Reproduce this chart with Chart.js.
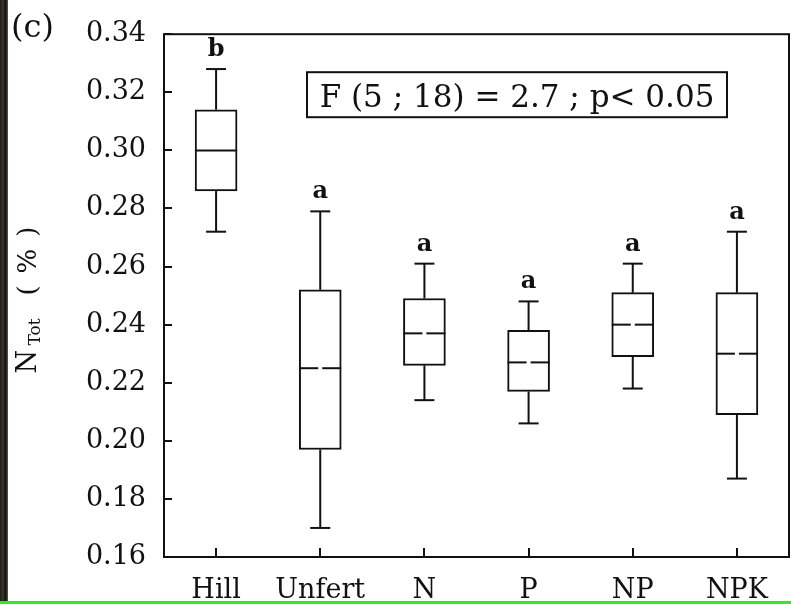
<!DOCTYPE html>
<html>
<head>
<meta charset="utf-8">
<script src="https://cdn.jsdelivr.net/npm/chart.js@4.4.1/dist/chart.umd.min.js"></script>
<style>
  html, body { margin: 0; padding: 0; background: #fff; }
  #wrap { position: relative; width: 791px; height: 604px; overflow: hidden; background: #fff; }
  #c { position: absolute; left: 0; top: 0; }
  #edge { position: absolute; left: 0; top: 0; width: 8px; height: 601px;
          background: linear-gradient(90deg, #1b1813 0%, #3b362b 35%, #121110 70%, #5a5953 100%); }
  #base { position: absolute; left: 0; bottom: 0; width: 791px; height: 3px; background: #1ff51c; }
</style>
</head>
<body>
<div id="wrap">
  <canvas id="c" width="791" height="604"></canvas>
  <div id="edge"></div>
  <div id="base"></div>
</div>
<script>
// Total nitrogen (%) per treatment: whisker ends, quartiles and medians
const groups       = ['Hill', 'Unfert', 'N', 'P', 'NP', 'NPK'];
const whiskerLow   = [0.272, 0.170, 0.214, 0.206, 0.218, 0.187];
const quartile1    = [0.286, 0.197, 0.226, 0.217, 0.229, 0.209];
const medians      = [0.300, 0.225, 0.237, 0.227, 0.240, 0.230];
const quartile3    = [0.314, 0.252, 0.249, 0.238, 0.251, 0.251];
const whiskerHigh  = [0.328, 0.279, 0.261, 0.248, 0.261, 0.272];
const groupLetters = ['b', 'a', 'a', 'a', 'a', 'a'];
const yTicks       = [0.16, 0.18, 0.20, 0.22, 0.24, 0.26, 0.28, 0.30, 0.32, 0.34];
const statText     = 'F (5 ; 18) = 2.7 ; p< 0.05';
const panelTag     = '(c)';

const INK = '#111111';
const SERIF = '"DejaVu Serif", "Liberation Serif", serif';
const solidMedian = new Set(['Hill']);

// whiskers, caps, medians and significance letters over the boxes
const boxParts = {
  id: 'boxParts',
  afterDatasetsDraw(chart) {
    const { ctx, scales: { x, y } } = chart;
    const meta = chart.getDatasetMeta(0);
    const seg = (x1, y1, x2, y2) => { ctx.beginPath(); ctx.moveTo(x1, y1); ctx.lineTo(x2, y2); ctx.stroke(); };
    ctx.save();
    ctx.strokeStyle = INK;
    ctx.lineWidth = 2;
    groups.forEach((g, i) => {
      const cx = x.getPixelForValue(i);
      const half = meta.data[i].width / 2;
      const pHi = y.getPixelForValue(whiskerHigh[i]);
      const pLo = y.getPixelForValue(whiskerLow[i]);
      const pQ1 = y.getPixelForValue(quartile1[i]);
      const pQ3 = y.getPixelForValue(quartile3[i]);
      const pMed = y.getPixelForValue(medians[i]);
      seg(cx, pQ3, cx, pHi);
      seg(cx, pQ1, cx, pLo);
      seg(cx - 10, pHi, cx + 10, pHi);
      seg(cx - 10, pLo, cx + 10, pLo);
      if (solidMedian.has(g)) {
        seg(cx - half, pMed, cx + half, pMed);
      } else {
        seg(cx - half, pMed, cx - 2, pMed);
        seg(cx + 2, pMed, cx + half, pMed);
      }
      ctx.fillStyle = INK;
      ctx.font = 'bold 24px ' + SERIF;
      ctx.textAlign = 'center';
      ctx.textBaseline = 'alphabetic';
      ctx.fillText(groupLetters[i], cx, pHi - 13);
    });
    ctx.restore();
  }
};

// plot frame, inward tick marks, statistics box, panel tag and y title
const frameAndNotes = {
  id: 'frameAndNotes',
  afterDraw(chart) {
    const { ctx, chartArea: a, scales: { x, y } } = chart;
    ctx.save();
    ctx.strokeStyle = INK;
    ctx.lineWidth = 2;
    ctx.strokeRect(a.left, a.top, a.right - a.left, a.bottom - a.top);
    ctx.beginPath();
    yTicks.forEach(v => {
      const py = Math.round(y.getPixelForValue(v));
      ctx.moveTo(a.left, py); ctx.lineTo(a.left + 8, py);
    });
    groups.forEach((g, i) => {
      const px = Math.round(x.getPixelForValue(i));
      ctx.moveTo(px, a.bottom); ctx.lineTo(px, a.bottom - 9);
    });
    ctx.stroke();

    // statistics box
    const bx = a.left + 143, by = a.top + 38, bw = 420, bh = 45;
    ctx.strokeRect(bx, by, bw, bh);
    ctx.fillStyle = INK;
    ctx.font = '31px ' + SERIF;
    ctx.textAlign = 'center';
    ctx.textBaseline = 'alphabetic';
    ctx.fillText(statText, bx + bw / 2, by + 35);

    // panel tag
    ctx.textAlign = 'left';
    ctx.font = '32px ' + SERIF;
    ctx.fillText(panelTag, 11, 37);

    // rotated y-axis title with subscript
    const cy = (a.top + a.bottom) / 2;
    ctx.translate(36, cy);
    ctx.rotate(-Math.PI / 2);
    ctx.font = '27px ' + SERIF;
    ctx.fillText('N', -78, 0);
    ctx.font = '17px ' + SERIF;
    ctx.fillText('Tot', -50, 4);
    ctx.font = '26px ' + SERIF;
    ctx.letterSpacing = '12px';
    ctx.fillText('(%)', 0, 0);
    ctx.restore();
  }
};

new Chart(document.getElementById('c'), {
  type: 'bar',
  data: {
    labels: groups,
    datasets: [{
      data: quartile1.map((q, i) => [q, quartile3[i]]),
      backgroundColor: '#ffffff',
      borderColor: INK,
      borderWidth: 2,
      borderSkipped: false,
      barThickness: 42
    }]
  },
  options: {
    responsive: false,
    animation: false,
    devicePixelRatio: 1,
    layout: { padding: { left: 0, right: 2, top: 24, bottom: 0 } },
    plugins: { legend: { display: false }, tooltip: { enabled: false } },
    scales: {
      x: {
        grid: { display: false, drawTicks: false },
        border: { display: false },
        ticks: { color: INK, font: { family: SERIF, size: 27 }, padding: 18, maxRotation: 0, autoSkip: false },
        afterFit(scale) { scale.height = 47; }
      },
      y: {
        min: 0.16,
        max: 0.34,
        grid: { display: false, drawTicks: false },
        border: { display: false },
        afterBuildTicks(scale) { scale.ticks = yTicks.map(v => ({ value: v })); },
        ticks: { color: INK, font: { family: SERIF, size: 27 }, padding: 18,
                 callback: v => Number(v).toFixed(2) },
        afterFit(scale) { scale.width = 164; }
      }
    }
  },
  plugins: [boxParts, frameAndNotes]
});
</script>
</body>
</html>
